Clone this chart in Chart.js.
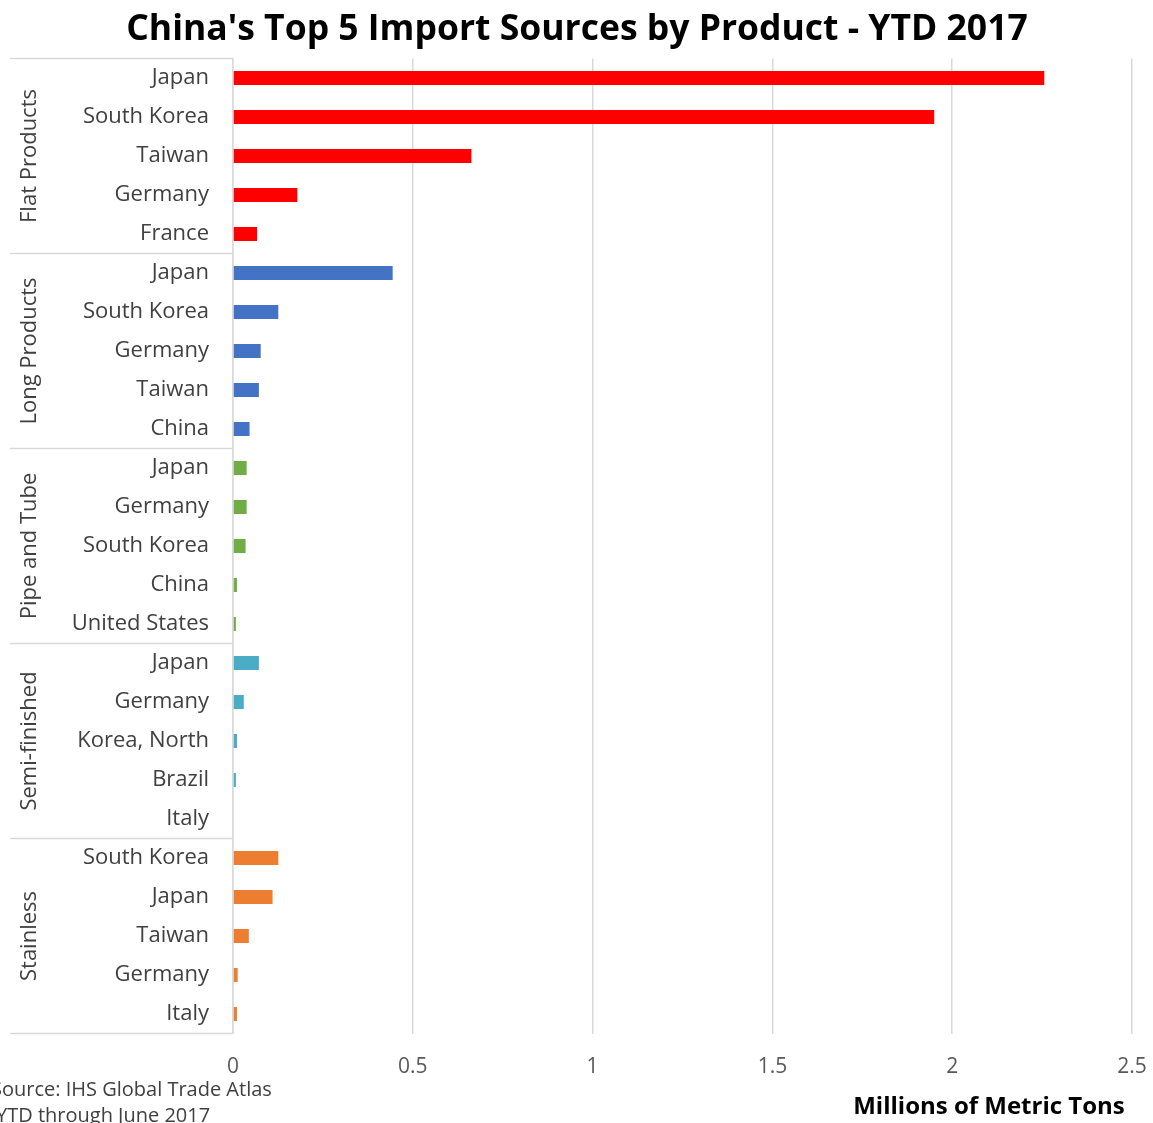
<!DOCTYPE html>
<html>
<head>
<meta charset="utf-8">
<script src="https://cdn.jsdelivr.net/npm/chart.js@4/dist/chart.umd.min.js"></script>
<style>
html,body{margin:0;padding:0;background:#fff;}
#wrap{width:1153px;height:1123px;position:relative;}
</style>
</head>
<body>
<div id="wrap"><canvas id="c" width="1153" height="1123"></canvas></div>
<script>
const title = "China's Top 5 Import Sources by Product - YTD 2017";
const groups = ['Flat Products', 'Long Products', 'Pipe and Tube', 'Semi-finished', 'Stainless'];
const flatCountries = ['Japan', 'South Korea', 'Taiwan', 'Germany', 'France'];
const flatValues = [2.256, 1.95, 0.663, 0.179, 0.067];
const longCountries = ['Japan', 'South Korea', 'Germany', 'Taiwan', 'China'];
const longValues = [0.444, 0.126, 0.077, 0.072, 0.046];
const pipeCountries = ['Japan', 'Germany', 'South Korea', 'China', 'United States'];
const pipeValues = [0.038, 0.038, 0.035, 0.011, 0.008];
const semiCountries = ['Japan', 'Germany', 'Korea, North', 'Brazil', 'Italy'];
const semiValues = [0.072, 0.030, 0.011, 0.008, 0];
const stainlessCountries = ['South Korea', 'Japan', 'Taiwan', 'Germany', 'Italy'];
const stainlessValues = [0.126, 0.110, 0.044, 0.013, 0.011];
const groupColors = ['#FF0000', '#4472C4', '#70AD47', '#4BACC6', '#ED7D31'];
const xTicks = [0, 0.5, 1, 1.5, 2, 2.5];
const xTitle = 'Millions of Metric Tons';
const sourceLines = ['Source: IHS Global Trade Atlas', 'YTD through June 2017'];

const groupCountries = [flatCountries, longCountries, pipeCountries, semiCountries, stainlessCountries];
const groupValues = [flatValues, longValues, pipeValues, semiValues, stainlessValues];
const labels = [], values = [], colors = [];
groupCountries.forEach((cs, g) => {
  cs.forEach((c, i) => { labels.push(c); values.push(groupValues[g][i]); colors.push(groupColors[g]); });
});

const FONT = "'Open Sans', sans-serif";

const decor = {
  id: 'decor',
  afterDraw(chart) {
    const ctx = chart.ctx;
    const y = chart.scales.y;
    const step = y.getPixelForValue(1) - y.getPixelForValue(0);
    const axisX = chart.chartArea.left;
    ctx.save();
    ctx.strokeStyle = '#D9D9D9';
    ctx.lineWidth = 1.5;
    let start = 0;
    const bounds = [];
    groupCountries.forEach((cs) => { bounds.push(start); start += cs.length; });
    bounds.push(start);
    bounds.forEach(b => {
      const py = y.getPixelForValue(b) - step / 2;
      ctx.beginPath(); ctx.moveTo(10, py); ctx.lineTo(axisX, py); ctx.stroke();
    });
    ctx.fillStyle = '#404040';
    ctx.font = "22px " + FONT;
    ctx.textAlign = 'center';
    ctx.textBaseline = 'middle';
    for (let g = 0; g < groups.length; g++) {
      const y0 = y.getPixelForValue(bounds[g]) - step / 2;
      const y1 = y.getPixelForValue(bounds[g + 1]) - step / 2;
      ctx.save();
      ctx.translate(30, (y0 + y1) / 2);
      ctx.rotate(-Math.PI / 2);
      ctx.fillText(groups[g], 0, 0);
      ctx.restore();
    }
    ctx.fillStyle = '#000000';
    ctx.font = "bold 35.5px " + FONT;
    ctx.textAlign = 'center';
    ctx.fillText(title, 577, 30);
    ctx.font = "bold 24px " + FONT;
    ctx.fillText(xTitle, 989, 1107);
    ctx.fillStyle = '#404040';
    ctx.font = "20px " + FONT;
    ctx.textAlign = 'left';
    ctx.fillText(sourceLines[0], -9, 1090);
    ctx.fillText(sourceLines[1], -4, 1116);
    ctx.restore();
  }
};

new Chart(document.getElementById('c'), {
  type: 'bar',
  data: {
    labels: labels,
    datasets: [{ data: values, backgroundColor: colors, borderWidth: 0, categoryPercentage: 1, barPercentage: 0.36 }]
  },
  options: {
    indexAxis: 'y',
    responsive: false,
    animation: false,
    layout: { padding: { top: 58.5, right: 21, left: 0, bottom: 0 } },
    plugins: { legend: { display: false }, tooltip: { enabled: false }, title: { display: false } },
    scales: {
      x: {
        min: 0, max: 2.5,
        afterBuildTicks(scale) { scale.ticks = xTicks.map(v => ({ value: v })); },
        afterFit(scale) { scale.height = 89.5; scale.paddingRight = 0; scale.paddingLeft = 0; },
        grid: { color: '#D9D9D9', lineWidth: 1.5, drawTicks: false },
        border: { display: false },
        ticks: { color: '#595959', font: { family: FONT, size: 21 }, padding: 21, callback: v => String(v) }
      },
      y: {
        afterFit(scale) { scale.width = 233; },
        grid: { display: false, drawTicks: false },
        border: { display: true, color: '#D9D9D9', width: 1.5 },
        ticks: { color: '#404040', font: { family: FONT, size: 22 }, padding: 24, autoSkip: false }
      }
    }
  },
  plugins: [decor]
});
</script>
</body>
</html>
